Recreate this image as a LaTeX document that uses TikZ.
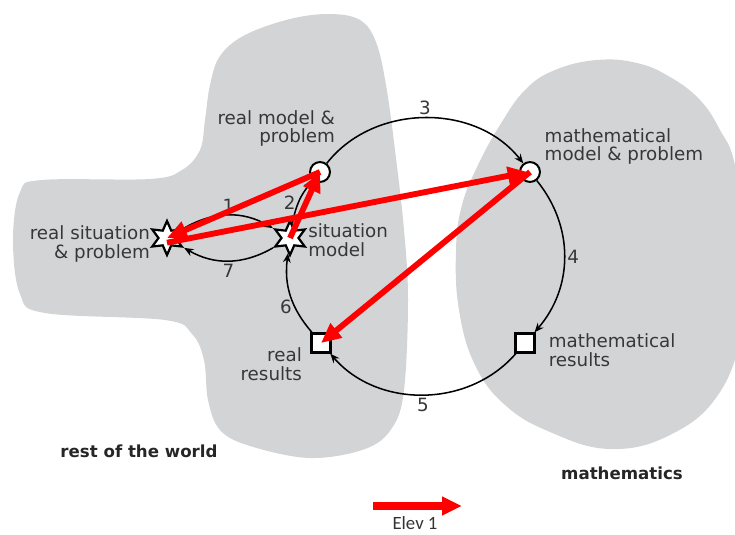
\documentclass[tikz,border=0pt]{standalone}
\usepackage{fontspec}
\setmainfont{DejaVu Sans}
\newfontfamily\legendfont{Carlito}
\usepackage{xcolor}
\usetikzlibrary{arrows.meta, positioning, shapes.geometric}

\definecolor{worldgray}{RGB}{211,212,214}
\definecolor{labelgray}{RGB}{55,55,58}
\definecolor{elevred}{RGB}{255,0,0}

\begin{document}
\begin{tikzpicture}[
    x=0.03cm, y=-0.03cm,
    every node/.style={font=\fontsize{15.6}{16}\selectfont, text=labelgray},
    area/.style={fill=worldgray, draw=none},
    sitstar/.style={star, star points=6, star point ratio=2, minimum size=29pt, inner sep=0pt, draw=black, line width=1.9pt, fill=white},
    modelcirc/.style={circle, minimum size=17pt, inner sep=0pt, draw=black, line width=1.7pt, fill=white},
    resbox/.style={rectangle, minimum size=16pt, inner sep=0pt, draw=black, line width=2.3pt, fill=white},
    lbl/.style={inner sep=0pt, align=left},
    num/.style={inner sep=2pt},
    flow/.style={-{Stealth[length=8pt, width=6.5pt]}, line width=1.3pt, black},
    elev/.style={-{Triangle[length=17pt, width=15pt]}, line width=5pt, elevred},
    region/.style={font=\fontsize{14.2}{16}\selectfont\bfseries, text=black!85},
]
\useasboundingbox (0,0) rectangle (735,534);

% === the two worlds ===
\fill[area] plot[smooth cycle, tension=0.6] coordinates {
    (210,85) (220,56) (245,35) (290,19) (330,14) (360,20) (376,42) (386,85)
    (395,150) (404,230) (408,300) (404,390) (392,428) (365,449) (310,458)
    (250,446) (220,430) (208,400) (204,360) (192,334) (165,320) (45,313)
    (20,294) (13,240) (20,192) (42,180) (150,179) (182,170) (200,150) (205,120)};
\fill[area] plot[smooth cycle, tension=0.7] coordinates {
    (597,60) (637,63) (670,77) (700,100) (720,130) (735,165) (748,250)
    (742,330) (718,395) (670,435) (610,449) (550,432) (505,405) (475,365)
    (459,310) (456,250) (462,205) (478,165) (500,125) (525,90) (555,70)};

% === stations of the cycle ===
\node[sitstar] (rs) at (167,238) {};
\node[sitstar] (sm) at (290,238) {};
\node[modelcirc] (rm) at (320,172) {};
\node[modelcirc] (mm) at (530,172) {};
\node[resbox] (rr) at (321,343) {};
\node[resbox] (mr) at (525,343) {};

\node[lbl, align=right, left=6pt of rs, yshift=-5pt] (rslbl) {real situation\\\& problem};
\node[lbl, right=7pt of sm, yshift=-2pt] (smlbl) {situation\\model};
\node[lbl, align=right, above=12pt of rm, anchor=south east, xshift=13pt] (rmlbl) {real model \&\\problem};
\node[lbl, right=3pt of mm, anchor=south west, yshift=6pt] (mmlbl) {mathematical\\model \& problem};
\node[lbl, align=right, left=7pt of rr, anchor=north east, yshift=-4pt] (rrlbl) {real\\results};
\node[lbl, right=11pt of mr, yshift=-6pt] (mrlbl) {mathematical\\results};

% === modelling cycle ===
\draw[flow] (rs) to[bend left=30] node[num, above] (n1) {1} (sm);
\draw[flow] (sm) to[bend left=30] node[num, below] (n7) {7} (rs);
\draw[flow] (sm) to[bend left=15] node[num, pos=0.45, left] (n2) {2} (rm);
\draw[flow] (rm) to[bend left=52] node[num, above] (n3) {3} (mm);
\draw[flow] (mm) to[bend left=40] node[num, right] (n4) {4} (mr);
\draw[flow] (mr) to[bend left=49] node[num, below] (n5) {5} (rr);
\draw[flow] (rr) to[bend left=24] node[num, pos=0.35, left] (n6) {6} (sm);

% === Elev 1 route ===
\draw[elev] (sm.center) -- (rm.center);
\draw[elev] (rm.center) -- (rs.center);
\draw[elev] ([yshift=-4pt]rs.center) -- ([xshift=-2pt]mm.center);
\draw[elev] (mm.center) -- (rr.center);

\node[region] (world) at (139,451) {rest of the world};
\node[region] (maths) at (622,473) {mathematics};

% === key ===
\coordinate (keyA) at (373,506);
\coordinate (keyB) at (462,506);
\draw[elev, line width=6pt] (keyA) -- (keyB);
\node[font=\legendfont\fontsize{16}{18}\selectfont, text=black!80, anchor=base, inner sep=0pt] (keytxt) at (415,529) {Elev 1};

\end{tikzpicture}
\end{document}
